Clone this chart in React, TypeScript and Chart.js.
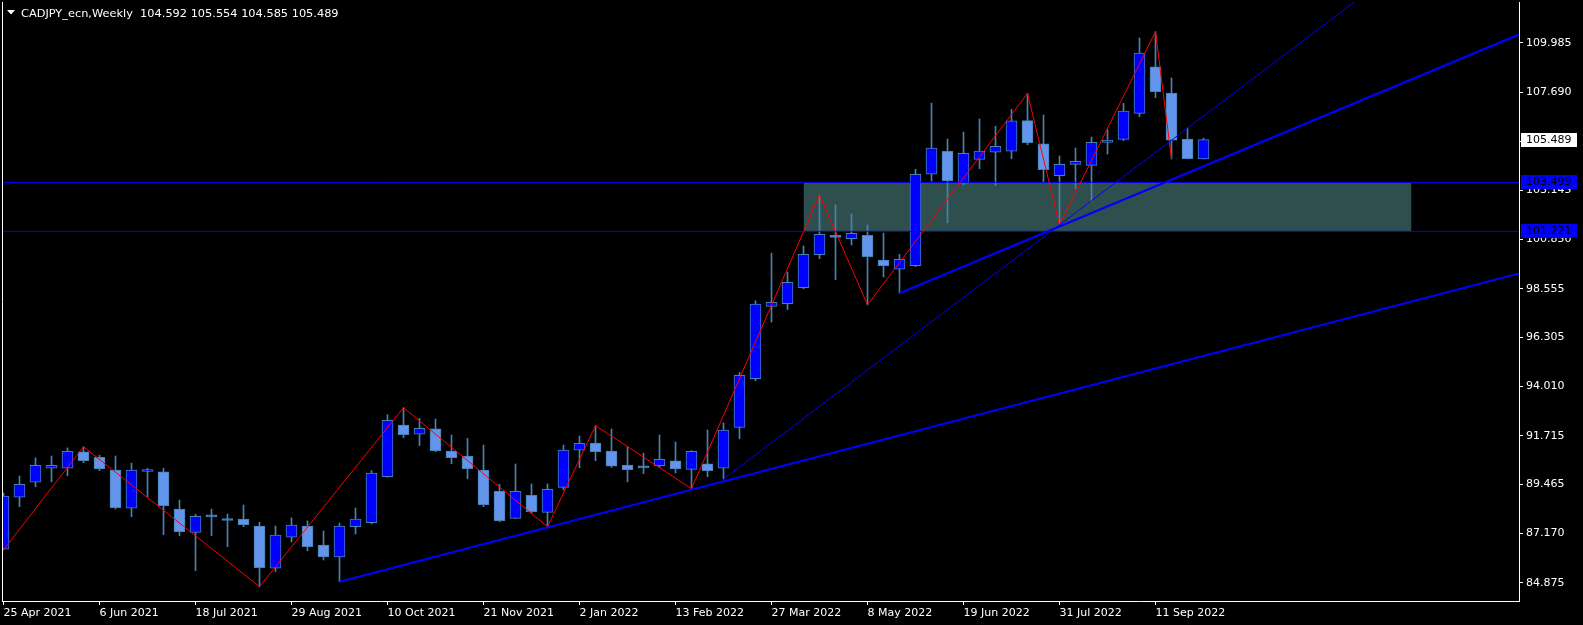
import React, { useEffect, useRef } from "react";
import { Chart, registerables } from "chart.js";

Chart.register(...registerables);

// ---------- data ----------
const chartTitle = "CADJPY_ecn,Weekly  104.592 105.554 104.585 105.489";

const dateLabels = [
  "25 Apr 2021", "6 Jun 2021", "18 Jul 2021", "29 Aug 2021", "10 Oct 2021",
  "21 Nov 2021", "2 Jan 2022", "13 Feb 2022", "27 Mar 2022", "8 May 2022",
  "19 Jun 2022", "31 Jul 2022", "11 Sep 2022",
];
const dateTickIndex = [0, 6, 12, 18, 24, 30, 36, 42, 48, 54, 60, 66, 72];

const opens = [
  86.43, 88.85, 89.55, 90.20, 90.20, 90.96, 90.71, 90.12, 88.34, 90.05,
  90.03, 88.30, 87.22, 87.96, 87.80, 87.84, 87.51, 85.55, 86.99, 87.51,
  86.63, 86.08, 87.48, 87.67, 89.81, 92.21, 91.78, 92.03, 91.00, 90.77,
  90.12, 89.13, 87.87, 88.94, 88.15, 89.31, 91.04, 91.37, 91.00, 90.35,
  90.25, 90.32, 90.54, 90.15, 90.40, 90.20, 92.10, 94.37, 97.73, 97.86,
  98.60, 100.14, 100.96, 100.88, 101.04, 99.88, 99.46, 99.62, 103.88, 104.95,
  103.46, 104.57, 104.90, 104.95, 106.37, 105.29, 103.81, 104.34, 104.29, 105.36,
  105.50, 106.71, 108.87, 107.66, 105.52, 104.592,
];
const highs = [
  89.05, 89.84, 90.68, 90.77, 91.15, 91.20, 90.80, 90.77, 90.44, 90.20,
  90.20, 88.72, 88.06, 88.30, 88.07, 88.49, 87.69, 87.51, 87.89, 87.75,
  87.28, 87.65, 88.35, 90.09, 92.69, 93.02, 92.52, 92.49, 91.75, 91.59,
  91.28, 89.45, 90.40, 89.47, 89.47, 91.28, 91.70, 92.18, 92.03, 91.20,
  90.90, 91.75, 91.42, 91.02, 91.98, 92.31, 94.65, 97.99, 100.21, 99.33,
  100.54, 102.91, 102.45, 102.03, 101.52, 101.14, 100.15, 104.11, 107.19, 105.52,
  105.84, 106.45, 106.11, 106.90, 107.64, 106.64, 104.73, 105.10, 105.61, 105.94,
  107.18, 110.22, 110.51, 108.36, 106.03, 105.554,
];
const lows = [
  86.40, 88.41, 89.34, 89.57, 89.85, 90.46, 90.09, 88.30, 87.95, 88.88,
  87.11, 87.06, 85.43, 87.06, 86.55, 87.48, 84.69, 85.39, 86.77, 86.36,
  85.93, 84.92, 87.14, 87.61, 89.78, 91.62, 91.25, 90.97, 90.41, 89.71,
  88.41, 87.71, 87.85, 88.10, 87.48, 89.19, 90.23, 90.55, 90.24, 89.57,
  89.95, 90.24, 89.98, 89.25, 89.81, 89.70, 91.57, 94.27, 97.00, 97.58,
  98.55, 99.95, 98.97, 100.59, 97.80, 99.10, 98.34, 99.58, 103.56, 101.62,
  103.38, 104.14, 103.35, 104.60, 105.25, 103.53, 101.52, 103.21, 102.60, 104.82,
  105.44, 106.56, 107.44, 104.59, 104.59, 104.585,
];
const closes = [
  88.91, 89.45, 90.34, 90.34, 90.99, 90.55, 90.18, 88.36, 90.12, 90.08,
  88.46, 87.25, 87.96, 87.94, 87.77, 87.57, 85.57, 87.09, 87.55, 86.55,
  86.08, 87.51, 87.84, 89.97, 92.43, 91.76, 92.06, 91.02, 90.69, 90.18,
  88.50, 87.76, 89.13, 88.18, 89.22, 91.04, 91.36, 90.97, 90.30, 90.13,
  90.22, 90.62, 90.17, 90.99, 90.09, 91.98, 94.52, 97.84, 97.92, 98.85,
  100.15, 101.08, 100.94, 101.13, 100.04, 99.62, 99.92, 103.88, 105.09, 103.58,
  104.85, 104.96, 105.18, 106.36, 105.35, 104.09, 104.34, 104.48, 105.36, 105.47,
  106.82, 109.51, 107.72, 105.46, 104.60, 105.489,
];

const priceTicks = [
  84.875, 87.17, 89.465, 91.715, 94.01, 96.305, 98.555, 100.85, 103.145,
  105.395, 107.69, 109.985,
];

const zigzagIndex = [0, 5, 16, 25, 34, 37, 43, 51, 54, 64, 66, 72, 73];
const zigzagValue = [
  86.40, 91.20, 84.69, 93.02, 87.48, 92.18, 89.25, 102.91, 97.80, 107.64,
  101.52, 110.51, 104.59,
];

const levelValues = [103.499, 101.221];
const zoneIndex = [50, 88];

// trend rays: two anchors each [index, price]
const trendA = [[21, 84.92], [43, 89.2]];
const trendB = [[56, 98.34], [66, 101.45]];
const trendC = [[45, 89.7], [66, 101.52]];

const lastPrice = 105.489;

// axis limits
const xMin = -0.09375;
const xMax = 94.71875;
const yMin = 84.0236;
const yMax = 111.892;

// ---------- helpers ----------
function ray(anchors: number[][]) {
  const [[x1, y1], [x2, y2]] = anchors;
  const k = (y2 - y1) / (x2 - x1);
  return [
    { x: x1, y: y1 },
    { x: xMax, y: y1 + k * (xMax - x1) },
  ];
}

const BULL = "#0000FF";
const BEAR = "#6495ED";
const EDGE = "#4682B4";
const FONT = "DejaVu Sans";

export default function App() {
  const canvasRef = useRef<HTMLCanvasElement | null>(null);

  useEffect(() => {
    document.body.style.margin = "0";
    document.body.style.background = "#000";
    const canvas = canvasRef.current;
    if (!canvas) return;

    const wickData = opens.map((_, i) => ({ x: i, y: [lows[i], highs[i]] }));
    const bodyData = opens.map((o, i) => ({ x: i, y: [o, closes[i]] }));
    const bodyColors = opens.map((o, i) => (closes[i] >= o ? BULL : BEAR));

    const overlay = {
      id: "overlay",
      afterDraw(chart: any) {
        const ctx = chart.ctx as CanvasRenderingContext2D;
        const y = chart.scales.y;
        const area = chart.chartArea;
        ctx.save();
        // left frame
        ctx.strokeStyle = "#FFFFFF";
        ctx.lineWidth = 1;
        ctx.beginPath();
        ctx.moveTo(area.left + 0.5, area.top);
        ctx.lineTo(area.left + 0.5, area.bottom);
        ctx.stroke();

        // title
        ctx.fillStyle = "#FFFFFF";
        ctx.beginPath();
        ctx.moveTo(7, 10);
        ctx.lineTo(15, 10);
        ctx.lineTo(11, 14.5);
        ctx.closePath();
        ctx.fill();
        ctx.font = `11.35px "${FONT}"`;
        ctx.textBaseline = "alphabetic";
        ctx.textAlign = "left";
        ctx.fillText(chartTitle, 21, 16.5);

        // price labels on the axis
        ctx.font = `11px "${FONT}"`;
        const boxes = [
          { v: levelValues[0], bg: BULL, fg: "#000000" },
          { v: levelValues[1], bg: BULL, fg: "#000000" },
          { v: lastPrice, bg: "#FFFFFF", fg: "#000000" },
        ];
        ctx.textBaseline = "middle";
        for (const b of boxes) {
          const py = Math.round(y.getPixelForValue(b.v));
          ctx.fillStyle = b.bg;
          ctx.fillRect(area.right + 2, py - 7, 56, 14);
          ctx.fillStyle = b.fg;
          ctx.fillText(b.v.toFixed(3), area.right + 7, py + 0.5);
        }
        ctx.restore();
      },
    };

    const zeroPad = (scale: any) => {
      scale.paddingTop = 0;
      scale.paddingBottom = 0;
      scale.paddingLeft = 0;
      scale.paddingRight = 0;
    };

    const chart = new Chart(canvas, {
      type: "bar",
      data: {
        datasets: [
          {
            type: "line",
            label: "zone",
            data: [
              { x: zoneIndex[0], y: levelValues[0] },
              { x: zoneIndex[1], y: levelValues[0] },
            ],
            borderWidth: 0,
            borderColor: "rgba(0,0,0,0)",
            backgroundColor: "#2F4F4F",
            fill: { value: levelValues[1] },
            pointRadius: 0,
            order: 100,
          } as any,
          {
            type: "bar",
            label: "wicks",
            data: wickData as any,
            backgroundColor: EDGE,
            borderWidth: 0,
            barThickness: 1,
            grouped: false,
            order: 60,
          } as any,
          {
            type: "bar",
            label: "bodies",
            data: bodyData as any,
            backgroundColor: bodyColors,
            borderColor: EDGE,
            borderWidth: 1,
            borderSkipped: false,
            barThickness: 11,
            minBarLength: 2,
            grouped: false,
            order: 50,
          } as any,
          ...levelValues.map((v) => ({
            type: "line",
            label: "level",
            data: [
              { x: xMin, y: v },
              { x: xMax, y: v },
            ],
            borderColor: "#0000FF",
            borderWidth: 1,
            pointRadius: 0,
            fill: false,
            order: 30,
          })) as any,
          {
            type: "line",
            label: "zigzag",
            data: zigzagIndex.map((x, i) => ({ x, y: zigzagValue[i] })),
            borderColor: "#FF0000",
            borderWidth: 1,
            pointRadius: 0,
            tension: 0,
            fill: false,
            order: 20,
          } as any,
          {
            type: "line",
            label: "trendA",
            data: ray(trendA),
            borderColor: "#0000FF",
            borderWidth: 2.2,
            pointRadius: 0,
            fill: false,
            order: 10,
          } as any,
          {
            type: "line",
            label: "trendB",
            data: ray(trendB),
            borderColor: "#0000FF",
            borderWidth: 2.2,
            pointRadius: 0,
            fill: false,
            order: 10,
          } as any,
          {
            type: "line",
            label: "trendC",
            data: ray(trendC),
            borderColor: "#0000FF",
            borderWidth: 1,
            pointRadius: 0,
            fill: false,
            order: 10,
          } as any,
        ],
      },
      options: {
        animation: false,
        responsive: true,
        maintainAspectRatio: false,
        events: [],
        layout: { padding: { left: 2, top: 2, right: 0, bottom: 0 } },
        plugins: {
          legend: { display: false },
          tooltip: { enabled: false },
          title: { display: false },
        },
        scales: {
          x: {
            type: "linear",
            min: xMin,
            max: xMax,
            offset: false,
            afterBuildTicks: (scale: any) => {
              scale.ticks = dateTickIndex.map((v) => ({ value: v }));
            },
            afterFit: (scale: any) => {
              scale.height = 24;
              zeroPad(scale);
            },
            ticks: {
              autoSkip: false,
              maxRotation: 0,
              minRotation: 0,
              align: "start",
              padding: 2,
              color: "#FFFFFF",
              font: { family: FONT, size: 11 },
              callback: (v: any) => {
                const k = dateTickIndex.indexOf(Number(v));
                return k >= 0 ? dateLabels[k] : "";
              },
            },
            grid: {
              display: true,
              offset: false,
              drawOnChartArea: false,
              drawTicks: true,
              tickLength: 4,
              color: "#FFFFFF",
            },
            border: { display: true, color: "#FFFFFF", width: 1 },
          } as any,
          y: {
            type: "linear",
            position: "right",
            min: yMin,
            max: yMax,
            afterBuildTicks: (scale: any) => {
              scale.ticks = priceTicks.map((v) => ({ value: v }));
            },
            afterFit: (scale: any) => {
              scale.width = 64;
              zeroPad(scale);
            },
            ticks: {
              padding: 3,
              color: "#FFFFFF",
              font: { family: FONT, size: 11 },
              callback: (v: any) => Number(v).toFixed(3),
            },
            grid: {
              display: true,
              drawOnChartArea: false,
              drawTicks: true,
              tickLength: 4,
              color: "#FFFFFF",
            },
            border: { display: true, color: "#FFFFFF", width: 1 },
          } as any,
        },
      },
      plugins: [overlay],
    });

    return () => chart.destroy();
  }, []);

  return (
    <div
      style={{
        position: "fixed",
        left: 0,
        top: 0,
        width: 1583,
        height: 625,
        background: "#000000",
      }}
    >
      <canvas ref={canvasRef} />
    </div>
  );
}
